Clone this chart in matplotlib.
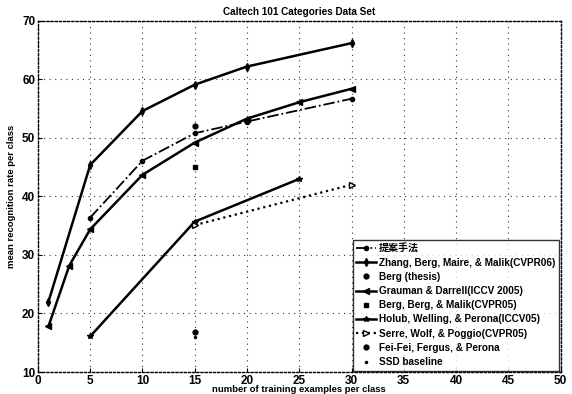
"""
Caltech 101 - recognition rate vs. number of training examples per class
"""
import matplotlib
matplotlib.use("Agg")
import matplotlib.pyplot as plt

plt.rcParams['font.family'] = ['Liberation Sans', 'Noto Sans CJK JP']
plt.rcParams['font.weight'] = 'bold'

# curves (training examples per class -> mean recognition rate, %)
proposed_x = [5, 10, 15, 20, 30]
proposed_y = [36.4, 46.1, 50.8, 52.8, 56.7]

zhang_x = [1, 5, 10, 15, 20, 30]
zhang_y = [22.0, 45.4, 54.6, 59.1, 62.2, 66.2]

grauman_x = [1, 3, 5, 10, 15, 20, 25, 30]
grauman_y = [17.8, 28.2, 34.4, 43.7, 49.2, 53.3, 56.1, 58.4]

holub_x = [5, 15, 25]
holub_y = [16.1, 35.7, 43.0]

serre_x = [15, 30]
serre_y = [35.1, 42.0]

# single results at 15 training examples
berg_thesis = (15, 52.0)
berg_berg_malik = (15, 45.0)
feifei = (15, 16.9)
ssd_baseline = (15, 16.0)

fig = plt.figure(figsize=(5.72, 3.94), dpi=100)
ax = fig.add_axes([0.0664, 0.0558, 0.9136, 0.8912])

ax.plot(proposed_x, proposed_y, color='black', ls='-.', lw=1.3,
        marker='o', ms=3, label='提案手法')
ax.plot(zhang_x, zhang_y, color='black', ls='-', lw=1.8,
        marker='d', ms=4, label='Zhang, Berg, Maire, & Malik(CVPR06)')
ax.plot(*berg_thesis, color='black', ls='none', marker='o', ms=3.5,
        label='Berg (thesis)')
ax.plot(grauman_x, grauman_y, color='black', ls='-', lw=1.8,
        marker='<', ms=4, label='Grauman & Darrell(ICCV 2005)')
ax.plot(*berg_berg_malik, color='black', ls='none', marker='s', ms=3.5,
        label='Berg, Berg, & Malik(CVPR05)')
ax.plot(holub_x, holub_y, color='black', ls='-', lw=1.8,
        marker='*', ms=4, label='Holub, Welling, & Perona(ICCV05)')
ax.plot(serre_x, serre_y, color='black', ls=':', lw=1.6,
        marker='>', ms=4, mfc='white', label='Serre, Wolf, & Poggio(CVPR05)')
ax.plot(*feifei, color='black', ls='none', marker='o', ms=3.5,
        label='Fei-Fei, Fergus, & Perona')
ax.plot(*ssd_baseline, color='black', ls='none', marker='.', ms=3,
        label='SSD baseline')

ax.set_xlim(0, 50)
ax.set_ylim(10, 70)
ax.set_xticks(range(0, 51, 5))
ax.set_yticks(range(10, 71, 10))
ax.tick_params(direction='in', length=3, labelsize=8.5, pad=2)
for lbl in ax.get_xticklabels() + ax.get_yticklabels():
    lbl.set_fontweight('bold')

ax.grid(True, ls=(0, (1, 4)), color='black', lw=0.8, alpha=0.8)
for sp in ax.spines.values():
    sp.set_linestyle((0, (1.5, 1.5)))
    sp.set_linewidth(1.0)

ax.set_title('Caltech 101 Categories Data Set', fontsize=7.2, fontweight='bold', pad=4)
ax.set_xlabel('number of training examples per class', fontsize=6.8,
              fontweight='bold', labelpad=-1)
ax.set_ylabel('mean recognition rate per class', fontsize=6.8,
              fontweight='bold', labelpad=4)

leg = ax.legend(loc='lower right', fontsize=7.2, frameon=True, fancybox=False,
                borderaxespad=0.15, handlelength=2.0, handletextpad=0.3,
                labelspacing=0.42, borderpad=0.35)
leg.get_frame().set_edgecolor('black')
leg.get_frame().set_linewidth(1.0)

fig.savefig('out.png', dpi=100)
